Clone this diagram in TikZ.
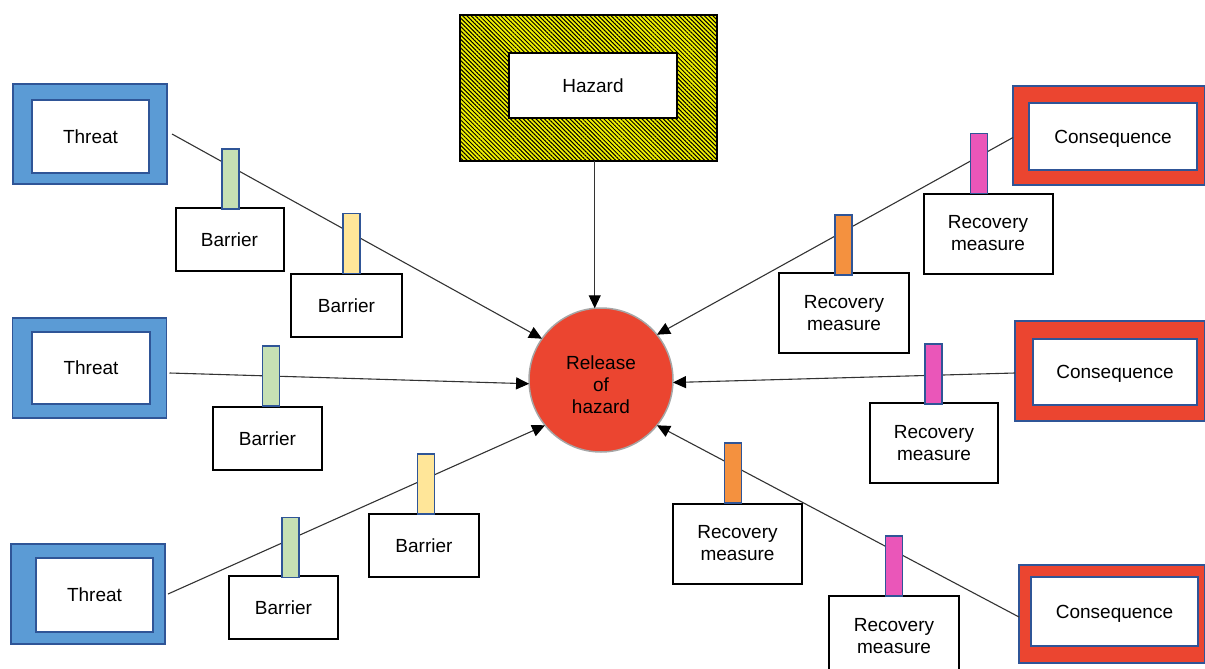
\documentclass[tikz,border=0pt]{standalone}
\usepackage{fontspec}
\setmainfont{Liberation Sans}
\usetikzlibrary{arrows.meta,patterns.meta}
\definecolor{tblue}{HTML}{5B9BD5}
\definecolor{dblue}{HTML}{2F5597}
\definecolor{cred}{HTML}{EB4530}
\definecolor{tgreen}{HTML}{C6E0B4}
\definecolor{tyellow}{HTML}{FFE699}
\definecolor{torange}{HTML}{F4913F}
\definecolor{tpink}{HTML}{EA56B9}
\definecolor{hyellow}{HTML}{F2F200}
\definecolor{linegray}{HTML}{333333}
\begin{document}
\begin{tikzpicture}[x=1pt,y=-1pt,
  every node/.style={font=\fontsize{19}{22}\selectfont, inner sep=0pt, outer sep=0pt, align=center},
  oneline/.style={text height=13.6pt, text depth=0pt},
  outerthreat/.style={draw=dblue, line width=1.5pt, fill=tblue, minimum width=154pt, minimum height=100pt},
  outercons/.style={draw=dblue, line width=1.5pt, fill=cred, minimum width=192pt, minimum height=99pt},
  innerbox/.style={draw=dblue, line width=2pt, fill=white, oneline},
  barrierbox/.style={draw=black, line width=2pt, fill=white, minimum width=108pt, minimum height=63pt, oneline},
  recbox/.style={draw=black, line width=2pt, fill=white, minimum width=129pt, minimum height=80pt},
  tabbar/.style={draw=dblue, line width=1.6pt, minimum width=17pt, minimum height=60pt, fill=#1},
  conn/.style={draw=linegray, line width=1.1pt, -{Triangle[length=13pt,width=12pt,black]}}
]
\useasboundingbox (0,0) rectangle (1205,669);

% Hazard
\node[draw=black, line width=2pt, preaction={fill=hyellow},
      pattern={Lines[angle=-45,distance=3pt,line width=1pt]}, pattern color=black,
      minimum width=257pt, minimum height=146pt] (Ho) at (588.5,88) {};
\node[innerbox, draw=black, minimum width=168pt, minimum height=65pt] (H) at (593,85.5) {Hazard};

% Threats
\node[outerthreat] (T1o) at (90,134) {};
\node[innerbox, minimum width=117pt, minimum height=73pt] (T1) at (90.5,136.5) {Threat};
\node[outerthreat] (T2o) at (89.5,368) {};
\node[innerbox, minimum width=118pt, minimum height=72pt] (T2) at (91,368) {Threat};
\node[outerthreat] (T3o) at (88,594) {};
\node[innerbox, minimum width=117pt, minimum height=74pt] (T3) at (94.5,595) {Threat};

% Consequences
\node[outercons] (C1o) at (1109,135.5) {};
\node[innerbox, minimum width=168pt, minimum height=67pt] (C1) at (1113,136.5) {Consequence};
\node[outercons, minimum width=190pt, minimum height=100pt] (C2o) at (1110,371) {};
\node[innerbox, minimum width=164pt, minimum height=66pt] (C2) at (1115,372) {Consequence};
\node[outercons, minimum width=186pt, minimum height=98pt] (C3o) at (1112,614) {};
\node[innerbox, minimum width=167pt, minimum height=69pt] (C3) at (1114.5,611.5) {Consequence};

% Central event
\node[circle, draw=black!35, line width=1.5pt, fill=cred, minimum size=144pt,
      label={[align=center, yshift=-5pt]center:Release\\of\\hazard}] (rel) at (601,380) {};

% Barriers
\node[barrierbox] (B1) at (229.5,239.5) {Barrier};
\node[barrierbox, minimum width=111pt] (B2) at (346.5,305.5) {Barrier};
\node[barrierbox, minimum width=109pt] (B3) at (267.5,438.5) {Barrier};
\node[barrierbox, minimum width=110pt] (B4) at (424,545.5) {Barrier};
\node[barrierbox, minimum width=109pt] (B5) at (283.5,607.5) {Barrier};

% Recovery measures
\node[recbox] (R1) at (988,233.5) {Recovery\\measure};
\node[recbox, minimum width=130pt] (R2) at (844,313) {Recovery\\measure};
\node[recbox, minimum width=128pt] (R3) at (934,443) {Recovery\\measure};
\node[recbox] (R4) at (737.5,543.5) {Recovery\\measure};
\node[recbox, minimum width=130pt] (R5) at (894,636) {Recovery\\measure};

% Connectors
\draw[conn] (rel.95 |- Ho.south) -- (rel.95);
\draw[conn] ([xshift=5pt]T1o.east) -- (rel.145);
\draw[conn] ([xshift=3pt,yshift=-5pt]T2o.east) -- (rel.183);
\draw[conn] ([xshift=3pt]T3o.east) -- (rel.219);
\draw[conn] ([yshift=-2pt]C1o.west) -- (rel.39);
\draw[conn] ([yshift=-2pt]C2o.west) -- (rel.-2);
\draw[conn] ([yshift=-3pt]C3o.west) -- (rel.-39);

% Tabs
\node[tabbar=tgreen] (g1) at (230.5,179) {};
\node[tabbar=tyellow] (y1) at (351.5,243.5) {};
\node[tabbar=tgreen] (g2) at (271,376) {};
\node[tabbar=tyellow] (y2) at (426,484) {};
\node[tabbar=tgreen] (g3) at (290.5,547.5) {};
\node[tabbar=tpink] (p1) at (979,163.5) {};
\node[tabbar=torange] (o1) at (843.5,245) {};
\node[tabbar=tpink] (p2) at (933.5,374) {};
\node[tabbar=torange] (o2) at (733,473) {};
\node[tabbar=tpink] (p3) at (894,566) {};
\end{tikzpicture}
\end{document}
